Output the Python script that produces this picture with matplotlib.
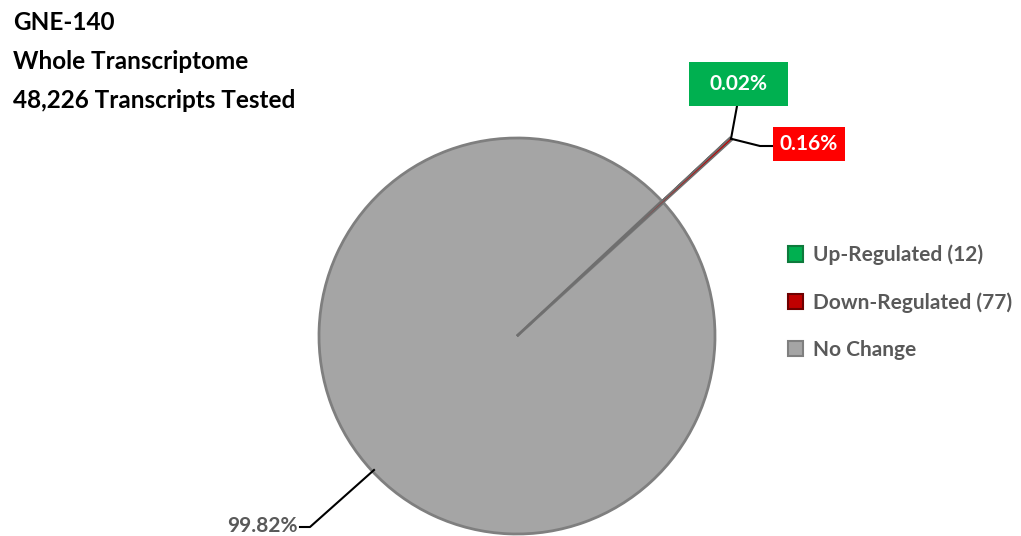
import matplotlib
matplotlib.use("Agg")
import matplotlib.pyplot as plt
from matplotlib.patches import Patch, Rectangle
import numpy as np

plt.rcParams['font.family'] = ['Lato', 'DejaVu Sans']

title_lines = ["GNE-140", "Whole Transcriptome", "48,226 Transcripts Tested"]
categories = ["Up-Regulated (12)", "Down-Regulated (77)", "No Change"]
counts = [12, 77, 48137]
pct_labels = ["0.02%", "0.16%", "99.82%"]
colors = ["#00B050", "#C00000", "#A5A5A5"]
edge_colors = ["#0E7A3C", "#6E0000", "#7F7F7F"]
box_colors = ["#00B050", "#FF0000", None]

W, H = 1021, 536
fig = plt.figure(figsize=(W / 100, H / 100), dpi=100)
ax = fig.add_axes([0, 0, 1, 1])

center = (517, H - 336)
R = 198
start = 43.0

# main pie
wedges, _ = ax.pie(counts, colors=colors, startangle=start, counterclock=False,
                   center=center, radius=R, frame=True,
                   wedgeprops=dict(linewidth=2, edgecolor="#7F7F7F"))
# small slices drawn extended outward (as in reference)
small, _ = ax.pie(counts, colors=colors, startangle=start, counterclock=False,
                  center=center, radius=R * 1.47, frame=True,
                  wedgeprops=dict(linewidth=1.2))
for i, w in enumerate(small):
    if i == 2:
        w.set_visible(False)
    else:
        w.set_edgecolor("#6F6F6F")
        w.set_zorder(3)
ax.set_xlim(0, W)
ax.set_ylim(0, H)
ax.set_aspect('equal')
ax.axis('off')

total = sum(counts)
ang_tip = np.deg2rad(start - 360 * (counts[0] + counts[1]) / total / 2)
tip = (center[0] + R * 1.47 * np.cos(ang_tip), center[1] + R * 1.47 * np.sin(ang_tip))

FS = 15
# green label
ax.plot([tip[0], tip[0] + 6], [tip[1], H - 106], color="black", lw=1.5, zorder=4)
ax.add_patch(Rectangle((689, H - 106), 99, 44, fc=box_colors[0], ec='none', zorder=5))
ax.text(738.5, H - 84, pct_labels[0], ha='center', va='center', color='white',
        fontsize=FS, fontweight='bold', zorder=6)
# red label
ax.plot([tip[0], 760, 775], [tip[1], H - 146, H - 146], color="black", lw=1.5, zorder=4)
ax.add_patch(Rectangle((773, H - 161), 72, 34, fc=box_colors[1], ec='none', zorder=5))
ax.text(809, H - 144, pct_labels[1], ha='center', va='center', color='white',
        fontsize=FS, fontweight='bold', zorder=6)
# gray label
ax.plot([374, 310, 300], [H - 470, H - 527, H - 527], color="black", lw=1.5, zorder=4)
ax.text(298, H - 526, pct_labels[2], ha='right', va='center', color='#595959',
        fontsize=FS, fontweight='bold')

# title
for i, t in enumerate(title_lines):
    ax.text(13, H - 23 - 38.5 * i, t, ha='left', va='center', color='black',
            fontsize=17.5, fontweight='bold')

# legend
handles = [Patch(facecolor=c, edgecolor=e, linewidth=1.5) for c, e in zip(colors, edge_colors)]
leg = ax.legend(handles, categories, loc='upper left', bbox_to_anchor=(769 / W, 1 - 226 / H),
                frameon=False, handlelength=0.75, handleheight=0.75, handletextpad=0.45,
                labelspacing=1.3, prop=dict(family='Lato', weight='bold', size=FS))
for t in leg.get_texts():
    t.set_color('#595959')

fig.savefig("out.png", dpi=100)
